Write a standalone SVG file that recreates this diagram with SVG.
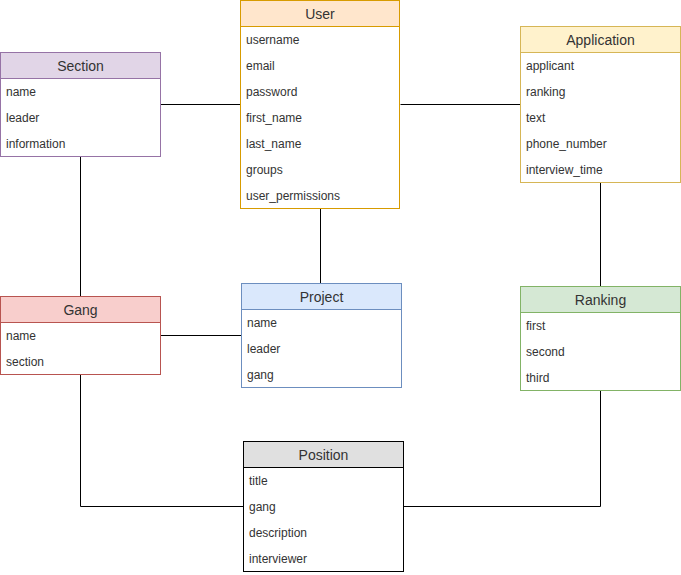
<svg xmlns="http://www.w3.org/2000/svg" width="681" height="575" viewBox="0 0 681 575">
<style>
text{font-family:"Liberation Sans",Arial,sans-serif;fill:#333333}
.t{font-size:14px;text-anchor:middle}
.r{font-size:12px}
.body{fill:#ffffff}
.c{fill:none;stroke:#000000;stroke-width:1}
</style>
<rect width="681" height="575" fill="#ffffff"/>
<g id="connectors">
<path class="c" d="M160.5 104.5H240.5"/>
<path class="c" d="M400.5 104.5H520.5"/>
<path class="c" d="M320.5 208.5V283.5"/>
<path class="c" d="M80.5 156.5V296.5"/>
<path class="c" d="M160.5 335.5H241.5"/>
<path class="c" d="M600.5 182.5V286.5"/>
<path class="c" d="M80.5 374.5V506.5H243.5"/>
<path class="c" d="M600.5 390.5V506.5H403.5"/>
</g>
<g id="user">
<rect x="240.5" y="0.5" width="159" height="208" class="body" stroke="#d79b00"/>
<rect x="240.5" y="0.5" width="159" height="26" fill="#ffe6cc" stroke="#d79b00"/>
<text class="t" x="320" y="19">User</text>
<text class="r" x="246" y="44">username</text>
<text class="r" x="246" y="70">email</text>
<text class="r" x="246" y="96">password</text>
<text class="r" x="246" y="122">first_name</text>
<text class="r" x="246" y="148">last_name</text>
<text class="r" x="246" y="174">groups</text>
<text class="r" x="246" y="200">user_permissions</text>
</g>
<g id="section">
<rect x="0.5" y="52.5" width="160" height="104" class="body" stroke="#9673a6"/>
<rect x="0.5" y="52.5" width="160" height="26" fill="#e1d5e7" stroke="#9673a6"/>
<text class="t" x="80.5" y="71">Section</text>
<text class="r" x="6" y="96">name</text>
<text class="r" x="6" y="122">leader</text>
<text class="r" x="6" y="148">information</text>
</g>
<g id="application">
<rect x="520.5" y="26.5" width="160" height="156" class="body" stroke="#d6b656"/>
<rect x="520.5" y="26.5" width="160" height="26" fill="#fff2cc" stroke="#d6b656"/>
<text class="t" x="600.5" y="45">Application</text>
<text class="r" x="526" y="70">applicant</text>
<text class="r" x="526" y="96">ranking</text>
<text class="r" x="526" y="122">text</text>
<text class="r" x="526" y="148">phone_number</text>
<text class="r" x="526" y="174">interview_time</text>
</g>
<g id="gang">
<rect x="0.5" y="296.5" width="160" height="78" class="body" stroke="#b85450"/>
<rect x="0.5" y="296.5" width="160" height="26" fill="#f8cecc" stroke="#b85450"/>
<text class="t" x="80.5" y="315">Gang</text>
<text class="r" x="6" y="340">name</text>
<text class="r" x="6" y="366">section</text>
</g>
<g id="project">
<rect x="241.5" y="283.5" width="160" height="104" class="body" stroke="#6c8ebf"/>
<rect x="241.5" y="283.5" width="160" height="26" fill="#dae8fc" stroke="#6c8ebf"/>
<text class="t" x="321.5" y="302">Project</text>
<text class="r" x="247" y="327">name</text>
<text class="r" x="247" y="353">leader</text>
<text class="r" x="247" y="379">gang</text>
</g>
<g id="ranking">
<rect x="520.5" y="286.5" width="160" height="104" class="body" stroke="#82b366"/>
<rect x="520.5" y="286.5" width="160" height="26" fill="#d5e8d4" stroke="#82b366"/>
<text class="t" x="600.5" y="305">Ranking</text>
<text class="r" x="526" y="330">first</text>
<text class="r" x="526" y="356">second</text>
<text class="r" x="526" y="382">third</text>
</g>
<g id="position">
<rect x="243.5" y="441.5" width="160" height="130" class="body" stroke="#000000"/>
<rect x="243.5" y="441.5" width="160" height="26" fill="#e0e0e0" stroke="#000000"/>
<text class="t" x="323.5" y="460">Position</text>
<text class="r" x="249" y="485">title</text>
<text class="r" x="249" y="511">gang</text>
<text class="r" x="249" y="537">description</text>
<text class="r" x="249" y="563">interviewer</text>
</g>
</svg>
